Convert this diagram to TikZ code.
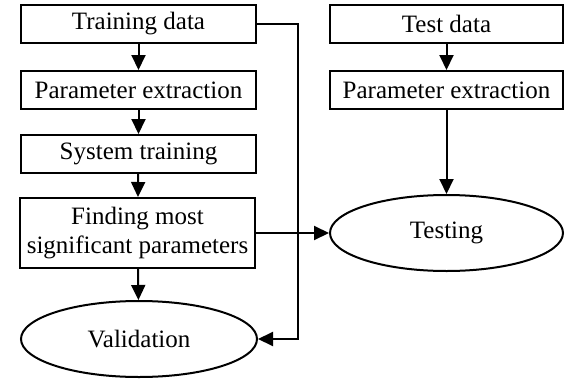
\documentclass[tikz,border=0pt]{standalone}
\usepackage{fontspec}
\setmainfont{Liberation Serif}
\usetikzlibrary{arrows.meta,shapes.geometric}

\tikzset{
  stepbox/.style={draw, line width=2pt, rectangle, inner sep=0pt,
    minimum width=235pt, minimum height=38pt, align=center,
    font=\fontsize{25}{29}\selectfont},
  oval/.style={draw, line width=2pt, ellipse, inner sep=0pt,
    minimum width=235pt, minimum height=76pt,
    font=\fontsize{25}{29}\selectfont},
  arr/.style={line width=2pt, -{Triangle[length=15pt,width=14pt]}},
}

\begin{document}
\begin{tikzpicture}[x=1pt,y=-1pt]
  \useasboundingbox (0,0) rectangle (565,380);

  % training branch
  \node[stepbox] (train) at (138.5,24) {Training data};
  \node[stepbox] (extractL) at (138.5,90) {Parameter extraction};
  \node[stepbox] (systrain) at (138.5,154) {System training};
  \node[stepbox, minimum height=70pt] (finding) at (137.5,233)
    {Finding most\\significant parameters};
  \node[oval, minimum width=236pt] (valid) at (139,339) {Validation};

  % test branch
  \node[stepbox, minimum width=233pt] (test) at (446.5,24) {Test data};
  \node[stepbox, minimum width=233pt] (extractR) at (446.5,90) {Parameter extraction};
  \node[oval, minimum width=233pt] (testing) at (446.5,233) {Testing};

  % connectors
  \draw[arr] (train) -- (extractL);
  \draw[arr] (extractL) -- (systrain);
  \draw[arr] (systrain) -- (finding);
  \draw[arr] (finding) -- (valid);
  \draw[arr] (test) -- (extractR);
  \draw[arr] (extractR) -- (testing);
  \draw[arr] (finding.east) -- (testing.west);

  % training data also goes straight to validation
  \coordinate (bend) at (298,24);
  \draw[arr] (train.east) -- (bend) |- (valid.east);
\end{tikzpicture}
\end{document}
